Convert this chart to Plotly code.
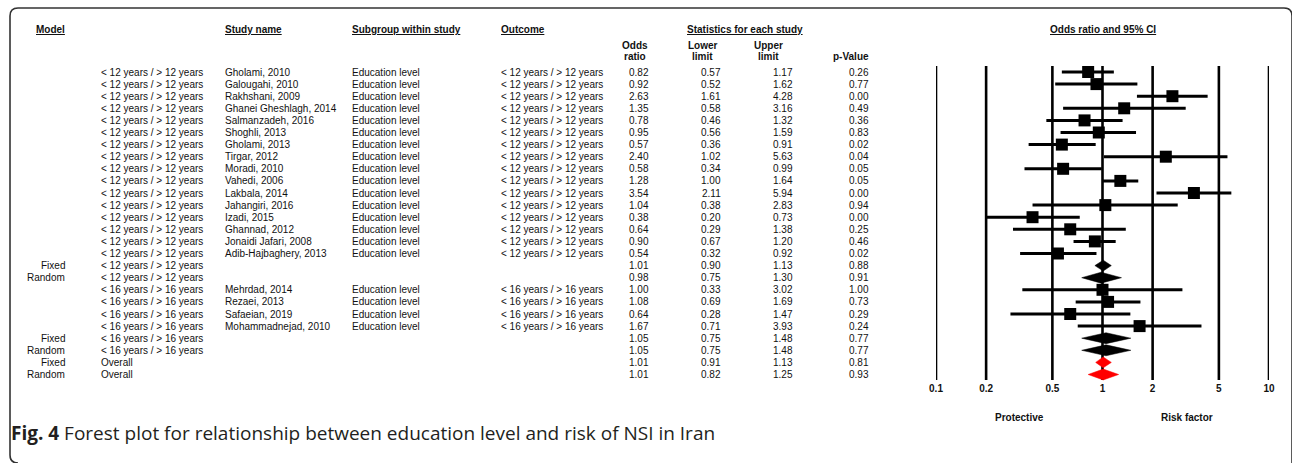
import math
import plotly.graph_objects as go

W, H = 1292, 463

# ---- data -----------------------------------------------------------------
MODEL = [""] * 16 + ["Fixed", "Random"] + [""] * 4 + ["Fixed", "Random", "Fixed", "Random"]

GROUP = (["< 12 years / > 12 years"] * 18
         + ["< 16 years / > 16 years"] * 6
         + ["Overall", "Overall"])

STUDY = [
    "Gholami, 2010", "Galougahi, 2010", "Rakhshani, 2009", "Ghanei Gheshlagh, 2014",
    "Salmanzadeh, 2016", "Shoghli, 2013", "Gholami, 2013", "Tirgar, 2012",
    "Moradi, 2010", "Vahedi, 2006", "Lakbala, 2014", "Jahangiri, 2016",
    "Izadi, 2015", "Ghannad, 2012", "Jonaidi Jafari, 2008", "Adib-Hajbaghery, 2013",
    "", "",
    "Mehrdad, 2014", "Rezaei, 2013", "Safaeian, 2019", "Mohammadnejad, 2010",
    "", "", "", "",
]

SUBGROUP = ["Education level" if s else "" for s in STUDY]
OUTCOME = [g if s else "" for g, s in zip(GROUP, STUDY)]

ODDS = [0.82, 0.92, 2.63, 1.35, 0.78, 0.95, 0.57, 2.40, 0.58, 1.28, 3.54, 1.04,
        0.38, 0.64, 0.90, 0.54, 1.01, 0.98, 1.00, 1.08, 0.64, 1.67, 1.05, 1.05,
        1.01, 1.01]
LOWER = [0.57, 0.52, 1.61, 0.58, 0.46, 0.56, 0.36, 1.02, 0.34, 1.00, 2.11, 0.38,
         0.20, 0.29, 0.67, 0.32, 0.90, 0.75, 0.33, 0.69, 0.28, 0.71, 0.75, 0.75,
         0.91, 0.82]
UPPER = [1.17, 1.62, 4.28, 3.16, 1.32, 1.59, 0.91, 5.63, 0.99, 1.64, 5.94, 2.83,
         0.73, 1.38, 1.20, 0.92, 1.13, 1.30, 3.02, 1.69, 1.47, 3.93, 1.48, 1.48,
         1.13, 1.25]
PVALUE = [0.26, 0.77, 0.00, 0.49, 0.36, 0.83, 0.02, 0.04, 0.05, 0.05, 0.00, 0.94,
          0.00, 0.25, 0.46, 0.02, 0.88, 0.91, 1.00, 0.73, 0.29, 0.24, 0.77, 0.77,
          0.81, 0.93]

# summary rows are diamonds; the two overall rows are red
KIND = ["study"] * 16 + ["sub", "sub"] + ["study"] * 4 + ["sub", "sub", "overall", "overall"]

TICKS = [0.1, 0.2, 0.5, 1, 2, 5, 10]
TICK_LABELS = ["0.1", "0.2", "0.5", "1", "2", "5", "10"]

# ---- layout helpers ------------------------------------------------------
ROW0, ROWH = 72.0, 12.1          # pixel centre of first row, row pitch


def px(x):
    return x / W


def py(y):
    return 1 - y / H


def row_of(ypix):
    return (ypix - ROW0) / ROWH


TXT = dict(family="Liberation Sans, Arial, sans-serif", size=10, color="#111111")
BOLD = dict(family="Liberation Sans, Arial, sans-serif", size=10, color="#111111")

fig = go.Figure()

# vertical reference lines at each tick
for t in TICKS:
    fig.add_trace(go.Scatter(
        x=[t, t], y=[row_of(66), row_of(380)], mode="lines",
        line=dict(color="black", width=2.6), hoverinfo="skip", showlegend=False,
        cliponaxis=False))

# confidence-interval whiskers for individual studies
cx, cy = [], []
for i, k in enumerate(KIND):
    if k == "study":
        cx += [LOWER[i], UPPER[i], None]
        cy += [i, i, None]
fig.add_trace(go.Scatter(x=cx, y=cy, mode="lines",
                         line=dict(color="black", width=3),
                         hoverinfo="skip", showlegend=False))

# point estimates
sx = [ODDS[i] for i, k in enumerate(KIND) if k == "study"]
sy = [i for i, k in enumerate(KIND) if k == "study"]
fig.add_trace(go.Scatter(x=sx, y=sy, mode="markers",
                         marker=dict(symbol="square", size=12, color="black",
                                     line=dict(width=0)),
                         hoverinfo="skip", showlegend=False))

# pooled estimates as diamonds
for i, k in enumerate(KIND):
    if k == "study":
        continue
    h = 0.45
    col = "#ff0000" if k == "overall" else "black"
    fig.add_trace(go.Scatter(
        x=[LOWER[i], ODDS[i], UPPER[i], ODDS[i], LOWER[i]],
        y=[i, i - h, i, i + h, i],
        mode="lines", fill="toself", fillcolor=col,
        line=dict(color=col, width=0.5), hoverinfo="skip", showlegend=False))

# tick labels under the forest
fig.add_trace(go.Scatter(
    x=TICKS, y=[row_of(389)] * len(TICKS), mode="text",
    text=[f"<b>{t}</b>" for t in TICK_LABELS], textposition="middle center",
    textfont=BOLD, hoverinfo="skip", showlegend=False, cliponaxis=False))

ann = []


def add_text(x, row, text, anchor="left", font=TXT):
    ann.append(dict(x=px(x), y=row, xref="paper", yref="y", text=text,
                    showarrow=False, xanchor=anchor, yanchor="middle", font=font,
                    borderpad=0, borderwidth=0))


# table body
for i in range(len(STUDY)):
    if MODEL[i]:
        add_text(65, i, MODEL[i], "right")
    add_text(101, i, GROUP[i])
    if STUDY[i]:
        add_text(225, i, STUDY[i])
        add_text(352, i, SUBGROUP[i])
        add_text(501, i, OUTCOME[i])
    add_text(649, i, f"{ODDS[i]:.2f}", "right")
    add_text(721, i, f"{LOWER[i]:.2f}", "right")
    add_text(793, i, f"{UPPER[i]:.2f}", "right")
    add_text(869, i, f"{PVALUE[i]:.2f}", "right")

# column headers
hdr_row = row_of(29)
add_text(36, hdr_row, "<b><u>Model</u></b>", "left", BOLD)
add_text(225, hdr_row, "<b><u>Study name</u></b>", "left", BOLD)
add_text(352, hdr_row, "<b><u>Subgroup within study</u></b>", "left", BOLD)
add_text(501, hdr_row, "<b><u>Outcome</u></b>", "left", BOLD)
add_text(745, hdr_row, "<b><u>Statistics for each study</u></b>", "center", BOLD)
add_text(1103, hdr_row, "<b><u>Odds ratio and 95% CI</u></b>", "center", BOLD)

for label, xc in [("Odds", 635), ("Lower", 703), ("Upper", 768)]:
    add_text(xc, row_of(45), f"<b>{label}</b>", "center", BOLD)
for label, xc in [("ratio", 635), ("limit", 703), ("limit", 768)]:
    add_text(xc, row_of(56.5), f"<b>{label}</b>", "center", BOLD)
add_text(869, row_of(56.5), "<b>p-Value</b>", "right", BOLD)

# direction labels
add_text(1019, row_of(417), "<b>Protective</b>", "center", BOLD)
add_text(1187, row_of(417), "<b>Risk factor</b>", "center", BOLD)

# figure caption
ann.append(dict(x=px(11), y=py(433), xref="paper", yref="paper",
                text="<b>Fig. 4</b> Forest plot for relationship between education level and risk of NSI in Iran",
                showarrow=False, xanchor="left", yanchor="middle",
                borderpad=0, borderwidth=0,
                font=dict(family="Open Sans, sans-serif", size=19, color="#231f20")))

# rounded frame around the panel
frame = (f"M {px(18)},{py(463)} Q {px(10)},{py(463)} {px(10)},{py(455)} "
         f"L {px(10)},{py(16)} Q {px(10)},{py(8)} {px(18)},{py(8)} "
         f"L {px(1284)},{py(8)} Q {px(1292)},{py(8)} {px(1292)},{py(16)} "
         f"L {px(1292)},{py(470)}")

fig.update_layout(
    width=W, height=H,
    margin=dict(l=0, r=0, t=0, b=0),
    paper_bgcolor="white", plot_bgcolor="rgba(0,0,0,0)",
    xaxis=dict(type="log", range=[-1, 1], domain=[936 / W, 1269 / W],
               visible=False, fixedrange=True),
    yaxis=dict(range=[row_of(H), row_of(0)], domain=[0, 1],
               visible=False, fixedrange=True),
    annotations=ann,
    shapes=[dict(type="path", path=frame, xref="paper", yref="paper",
                 line=dict(color="#333333", width=1.6))],
    showlegend=False,
)

fig.write_html("out.html")
